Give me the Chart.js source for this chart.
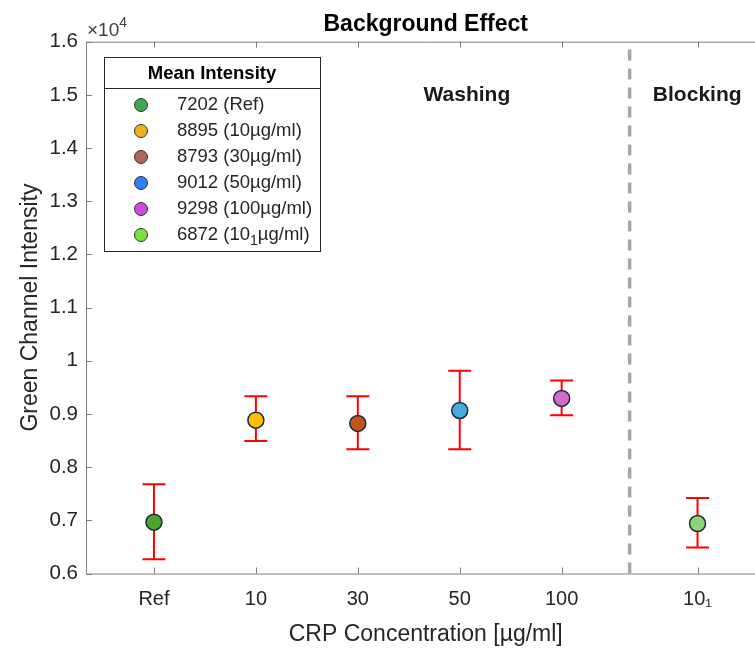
<!DOCTYPE html>
<html>
<head>
<meta charset="utf-8">
<script src="https://cdn.jsdelivr.net/npm/chart.js@4"></script>
<style>
  html, body { margin: 0; padding: 0; overflow: hidden; background: #fff; }
</style>
</head>
<body>
<canvas id="chart" width="775" height="650"></canvas>
<script>
// data
const categories = ['Ref', '10', '30', '50', '100', '10\u2081'];
const xPositions = [1, 2, 3, 4, 5, 6.333];
const meanValues = [6965, 8884, 8822, 9066, 9292, 6940];
const errHigh = [7680, 9335, 9335, 9811, 9630, 7420];
const errLow = [6270, 8490, 8338, 8338, 8978, 6490];
const markerColors = ['#4EA42E', '#FFC000', '#C1531B', '#44ADE0', '#D56BC9', '#8BD672'];

const legendValues = [7202, 8895, 8793, 9012, 9298, 6872];
const legendNames = ['Ref', '10µg/ml', '30µg/ml', '50µg/ml', '100µg/ml', '10_1µg/ml'];
const legendColors = ['#3DAA4A', '#EDB120', '#B5625D', '#3080F5', '#D048E0', '#78E03A'];

const yTicks = [6000, 7000, 8000, 9000, 10000, 11000, 12000, 13000, 14000, 15000, 16000];
const dividerX = 5.667;
const regionNames = ['Washing', 'Blocking'];
const regionX = [4.07, 6.33];

const FONT = "'Liberation Sans', Arial, Helvetica, sans-serif";
const AXIS_GREY = '#808080';

// draws "abc_1def" with the character after _ as a subscript
function drawSubText(ctx, text, x, y, size) {
  const parts = text.split('_');
  ctx.font = size + 'px ' + FONT;
  ctx.fillText(parts[0], x, y);
  x += ctx.measureText(parts[0]).width;
  for (let i = 1; i < parts.length; i++) {
    const sub = parts[i][0], rest = parts[i].slice(1);
    ctx.font = Math.round(size * 0.78) + 'px ' + FONT;
    ctx.fillText(sub, x, y + size * 0.32);
    x += ctx.measureText(sub).width;
    ctx.font = size + 'px ' + FONT;
    ctx.fillText(rest, x, y);
    x += ctx.measureText(rest).width;
  }
}

const errorBars = {
  id: 'errorBars',
  beforeDatasetsDraw(chart) {
    const { ctx, scales: { x, y } } = chart;
    ctx.save();
    ctx.strokeStyle = '#FF0000';
    ctx.lineWidth = 2;
    xPositions.forEach((xv, i) => {
      const px = x.getPixelForValue(xv);
      const top = y.getPixelForValue(errHigh[i]);
      const bot = y.getPixelForValue(errLow[i]);
      ctx.beginPath();
      ctx.moveTo(px, top); ctx.lineTo(px, bot);
      ctx.moveTo(px - 11.5, top); ctx.lineTo(px + 11.5, top);
      ctx.moveTo(px - 11.5, bot); ctx.lineTo(px + 11.5, bot);
      ctx.stroke();
    });
    ctx.restore();
  }
};

const axesBox = {
  id: 'axesBox',
  afterDatasetsDraw(chart) {
    const { ctx, chartArea: a, scales: { x, y } } = chart;
    ctx.save();
    ctx.strokeStyle = AXIS_GREY;
    ctx.lineWidth = 1;
    ctx.beginPath();
    ctx.moveTo(a.left + 0.5, a.top + 0.5);
    ctx.lineTo(a.left + 0.5, a.bottom + 0.5);
    ctx.lineTo(a.right, a.bottom + 0.5);
    ctx.moveTo(a.left, a.top + 0.5);
    ctx.lineTo(a.right, a.top + 0.5);
    ctx.moveTo(a.right + 0.5, a.top);
    ctx.lineTo(a.right + 0.5, a.bottom);
    x.ticks.forEach(t => {
      const px = Math.round(x.getPixelForValue(t.value)) + 0.5;
      ctx.moveTo(px, a.bottom); ctx.lineTo(px, a.bottom - 6);
      ctx.moveTo(px, a.top); ctx.lineTo(px, a.top + 6);
    });
    y.ticks.forEach(t => {
      const py = Math.round(y.getPixelForValue(t.value)) + 0.5;
      ctx.moveTo(a.left, py); ctx.lineTo(a.left + 6, py);
      ctx.moveTo(a.right, py); ctx.lineTo(a.right - 6, py);
    });
    ctx.stroke();

    // exponent label
    ctx.fillStyle = '#404040';
    ctx.textBaseline = 'middle';
    ctx.textAlign = 'left';
    ctx.font = '19px ' + FONT;
    ctx.fillText('\u00d710', a.left + 1, a.top - 11);
    const w = ctx.measureText('\u00d710').width;
    ctx.font = '14px ' + FONT;
    ctx.fillText('4', a.left + 1 + w, a.top - 19);

    // region labels
    ctx.fillStyle = '#1a1a1a';
    ctx.textAlign = 'center';
    ctx.font = 'bold 21px ' + FONT;
    regionNames.forEach((n, i) => {
      ctx.fillText(n, x.getPixelForValue(regionX[i]), y.getPixelForValue(15000));
    });
    ctx.restore();
  }
};

const boxLegend = {
  id: 'boxLegend',
  afterDraw(chart) {
    const ctx = chart.ctx;
    const left = 104, top = 57, w = 216, rowH = 26;
    const h = 35 + rowH * legendNames.length + 3;
    ctx.save();
    ctx.fillStyle = '#fff';
    ctx.fillRect(left, top, w, h);
    ctx.strokeStyle = '#262626';
    ctx.lineWidth = 1;
    ctx.strokeRect(left + 0.5, top + 0.5, w, h);
    ctx.beginPath();
    ctx.moveTo(left, top + 31.5); ctx.lineTo(left + w, top + 31.5);
    ctx.stroke();
    ctx.fillStyle = '#000';
    ctx.textAlign = 'center';
    ctx.textBaseline = 'middle';
    ctx.font = 'bold 18.5px ' + FONT;
    ctx.fillText('Mean Intensity', left + w / 2, top + 17);
    ctx.textAlign = 'left';
    legendNames.forEach((n, i) => {
      const cy = top + 48 + i * rowH;
      ctx.beginPath();
      ctx.arc(left + 37, cy, 6.5, 0, Math.PI * 2);
      ctx.fillStyle = legendColors[i];
      ctx.fill();
      ctx.strokeStyle = '#333';
      ctx.lineWidth = 1;
      ctx.stroke();
      ctx.fillStyle = '#262626';
      drawSubText(ctx, legendValues[i] + ' (' + n + ')', left + 73, cy, 18.5);
    });
    ctx.restore();
  }
};

new Chart(document.getElementById('chart'), {
  type: 'scatter',
  data: {
    datasets: [
      {
        label: 'Mean',
        data: xPositions.map((xv, i) => ({ x: xv, y: meanValues[i] })),
        pointRadius: 8,
        pointBackgroundColor: markerColors,
        pointBorderColor: '#1C2A36',
        pointBorderWidth: 1.5,
        order: 1
      },
      {
        type: 'line',
        label: 'divider',
        data: [{ x: dividerX, y: 6000 }, { x: dividerX, y: 16000 }],
        borderColor: '#A6A6A6',
        borderWidth: 3.5,
        borderDash: [11, 8],
        pointRadius: 0,
        order: 2
      }
    ]
  },
  options: {
    responsive: false,
    animation: false,
    layout: { padding: { left: 0, right: 8, top: 0, bottom: 0 } },
    plugins: {
      legend: { display: false },
      tooltip: { enabled: false },
      title: {
        display: true,
        fullSize: false,
        text: 'Background Effect',
        color: '#000',
        font: { family: FONT, size: 23, weight: 'bold' },
        padding: { top: 11, bottom: 3.1 }
      }
    },
    scales: {
      x: {
        type: 'linear',
        min: 1 / 3,
        max: 7,
        afterFit: s => { s.height = 76.5; },
        afterBuildTicks: s => { s.ticks = xPositions.map(v => ({ value: v })); },
        grid: { display: false, drawTicks: false },
        border: { display: false },
        ticks: {
          padding: 14,
          color: '#262626',
          font: { family: FONT, size: 20 },
          callback: v => categories[xPositions.indexOf(v)]
        },
        title: {
          display: true,
          text: 'CRP Concentration [µg/ml]',
          color: '#262626',
          font: { family: FONT, size: 23 },
          padding: { top: 0, bottom: 2 }
        }
      },
      y: {
        min: 6000,
        max: 16000,
        afterFit: s => { s.width = 86; },
        afterBuildTicks: s => { s.ticks = yTicks.map(v => ({ value: v })); },
        grid: { display: false, drawTicks: false },
        border: { display: false },
        ticks: {
          padding: 8,
          color: '#262626',
          font: { family: FONT, size: 20.5 },
          callback: v => String(v / 10000)
        },
        title: {
          display: true,
          text: 'Green Channel Intensity',
          color: '#262626',
          font: { family: FONT, size: 23 },
          padding: { top: 17, bottom: 0 }
        }
      }
    }
  },
  plugins: [errorBars, axesBox, boxLegend]
});
</script>
</body>
</html>
